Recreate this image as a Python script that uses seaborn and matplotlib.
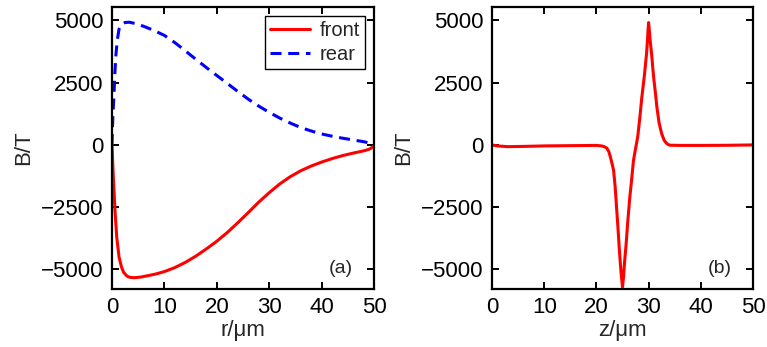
import matplotlib
matplotlib.use("Agg")
import matplotlib.pyplot as plt
import seaborn as sns
import pandas as pd

# ---- data ----
r_front = [0, 0.25, 0.57, 0.9, 1.34, 1.8, 2.2, 2.7, 3.1, 3.7, 4.4, 5.5, 7, 8.5, 10, 12, 14, 16,
           18, 20, 22, 24, 26, 28, 30, 32, 34, 36, 38, 40, 42, 44, 46, 48, 49, 49.6, 50]
B_front = [0, -1300, -2630, -3700, -4500, -4900, -5110, -5240, -5300, -5330, -5335, -5310, -5250,
           -5180, -5090, -4930, -4720, -4470, -4180, -3870, -3520, -3130, -2720, -2300, -1920,
           -1570, -1280, -1040, -850, -690, -550, -430, -330, -240, -180, -110, -40]

r_rear = [0, 0.06, 0.2, 0.38, 0.55, 0.76, 1.0, 1.34, 1.8, 2.5, 3.3, 4.4, 6, 8, 10, 12, 14, 16,
          18, 20, 22, 24, 26, 28, 30, 32, 34, 36, 38, 40, 42, 44, 46, 48, 50]
B_rear = [0, 570, 1300, 2040, 2900, 3650, 4200, 4650, 4840, 4920, 4930, 4880, 4770, 4600, 4400,
          4110, 3780, 3440, 3110, 2790, 2470, 2150, 1840, 1560, 1310, 1080, 880, 700, 560, 440,
          350, 270, 200, 130, 40]

z_vals = [0, 1, 3, 6, 10, 15, 20, 21, 21.5, 22, 22.4, 22.7, 23.0, 23.3, 23.6, 23.9, 24.2, 24.4,
          24.6, 24.8, 25.0, 25.2, 25.4, 25.7, 26.0, 26.4, 26.7, 27.1, 27.5, 27.9, 28.3, 28.7,
          29.2, 29.6, 29.8, 29.9, 30.0, 30.1, 30.3, 30.6, 30.8, 31.0, 31.3, 31.6, 32.0, 32.5,
          33.0, 33.5, 34, 36, 40, 45, 50]
B_z = [0, -40, -70, -60, -40, -30, -20, -40, -70, -130, -280, -500, -750, -1030, -1700, -2630,
       -3550, -4230, -4800, -5300, -5710, -5300, -4700, -3970, -3100, -2100, -1500, -630, -150,
       300, 1050, 1910, 2800, 3650, 4250, 4650, 4916, 4700, 4200, 3600, 3100, 2650, 2100, 1500,
       900, 450, 180, 50, -10, -20, -20, -15, 0]

xticks = [0, 10, 20, 30, 40, 50]
yticks = [-5000, -2500, 0, 2500, 5000]

sns.set_style("ticks")
plt.rcParams['font.family'] = ['Liberation Sans', 'DejaVu Sans']
plt.rcParams['axes.unicode_minus'] = True

fig = plt.figure(figsize=(7.67, 3.47), dpi=100)
ax1 = fig.add_axes([112 / 767, 1 - 289 / 347, (374 - 112) / 767, (289 - 7.3) / 347])
ax2 = fig.add_axes([492 / 767, 1 - 289 / 347, (753 - 492) / 767, (289 - 7.3) / 347])

df_front = pd.DataFrame({"x": r_front, "B": B_front})
df_rear = pd.DataFrame({"x": r_rear, "B": B_rear})
df_z = pd.DataFrame({"x": z_vals, "B": B_z})

LW = 2.2
sns.lineplot(data=df_front, x="x", y="B", ax=ax1, color="#ff0000", lw=LW, label="front",
             sort=False)
sns.lineplot(data=df_rear, x="x", y="B", ax=ax1, color="#0000ff", lw=LW, label="rear",
             sort=False)
ax1.lines[1].set_dashes((3.6, 2.2))
sns.lineplot(data=df_z, x="x", y="B", ax=ax2, color="#ff0000", lw=LW, sort=False)

for ax, xl, tag in [(ax1, "r/\u03bcm", "(a)"), (ax2, "z/\u03bcm", "(b)")]:
    ax.set_xlim(0, 50)
    ax.set_ylim(-5790, 5530)
    ax.set_xticks(xticks)
    ax.set_yticks(yticks)
    ax.set_xticklabels([str(t) for t in xticks])
    ax.set_yticklabels(["\u22125000", "\u22122500", "0", "2500", "5000"])
    ax.tick_params(direction="in", length=5, width=1.4, top=True, right=True,
                   labelsize=16, pad=6, colors="black")
    for s in ax.spines.values():
        s.set_linewidth(1.6)
        s.set_color("black")
        s.set_visible(True)
    ax.set_xlabel(xl, fontsize=16, labelpad=1)
    ax.set_ylabel("B/T", fontsize=16, labelpad=5)
    ax.text(0.92, 0.043, tag, transform=ax.transAxes, ha="right", va="bottom", fontsize=14)

leg = ax1.legend(loc="upper right", fontsize=14.5, frameon=True, fancybox=False,
                 edgecolor="black", framealpha=1, borderaxespad=0.45, handlelength=2.0,
                 borderpad=0.25, labelspacing=0.25, handletextpad=0.45)
leg.get_frame().set_linewidth(1.0)

fig.savefig("out.png", dpi=100)
